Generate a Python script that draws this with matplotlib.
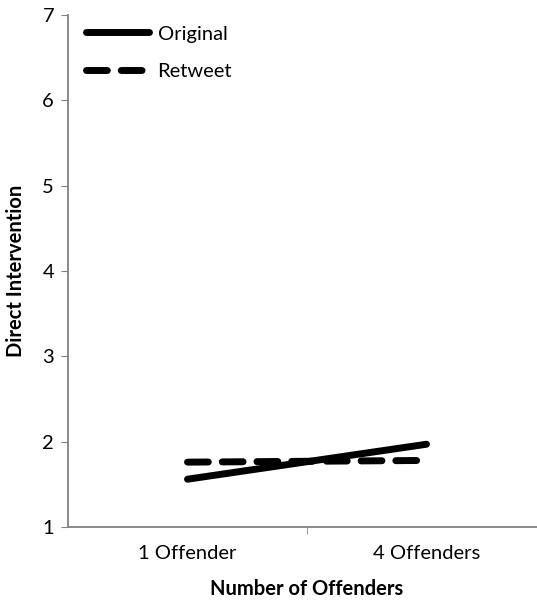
import numpy as np
import matplotlib
matplotlib.use('Agg')
from matplotlib import pyplot as plt

categories = ['1 Offender', '4 Offenders']
original = [1.56, 1.97]
retweet = [1.76, 1.78]

plt.rcParams['font.family'] = ['Lato', 'DejaVu Sans']

fig = plt.figure(figsize=(5.37, 6.0), dpi=100)
ax = fig.add_axes([68/537, 73/600, 478/537, 512/600])

x = np.arange(len(categories))
ax.plot(x, original, color='black', lw=5, solid_capstyle='round', label='Original')
ax.plot(x, retweet, color='black', lw=5, ls=(0, (3, 2)), dash_capstyle='round',
        label='Retweet')

ax.set_xlim(-0.5, 1.5)
ax.set_ylim(1, 7)
ax.set_yticks(range(1, 8))
ax.set_xticks(x)
ax.set_xticklabels(categories)
ax.set_xticks([0.5, 1.5], minor=True)
ax.tick_params(axis='x', which='major', length=0, pad=13, labelsize=14.5)
ax.tick_params(axis='x', which='minor', length=5, color='#808080')
ax.tick_params(axis='y', length=5, color='#808080', labelsize=14.5, pad=5)
for s in ['top', 'right']:
    ax.spines[s].set_visible(False)
for s in ['left', 'bottom']:
    ax.spines[s].set_color('#808080')
    ax.spines[s].set_linewidth(1.3)

ax.set_xlabel('Number of Offenders', fontsize=14.5, fontweight='bold', labelpad=12)
ax.set_ylabel('Direct Intervention', fontsize=14.5, fontweight='bold', labelpad=12)

ax.legend(loc='upper left', bbox_to_anchor=(0.0, 1.015), frameon=False,
          fontsize=14.5, handlelength=3.1, handletextpad=0.45, labelspacing=1.0)

fig.savefig('out.png', dpi=100)
